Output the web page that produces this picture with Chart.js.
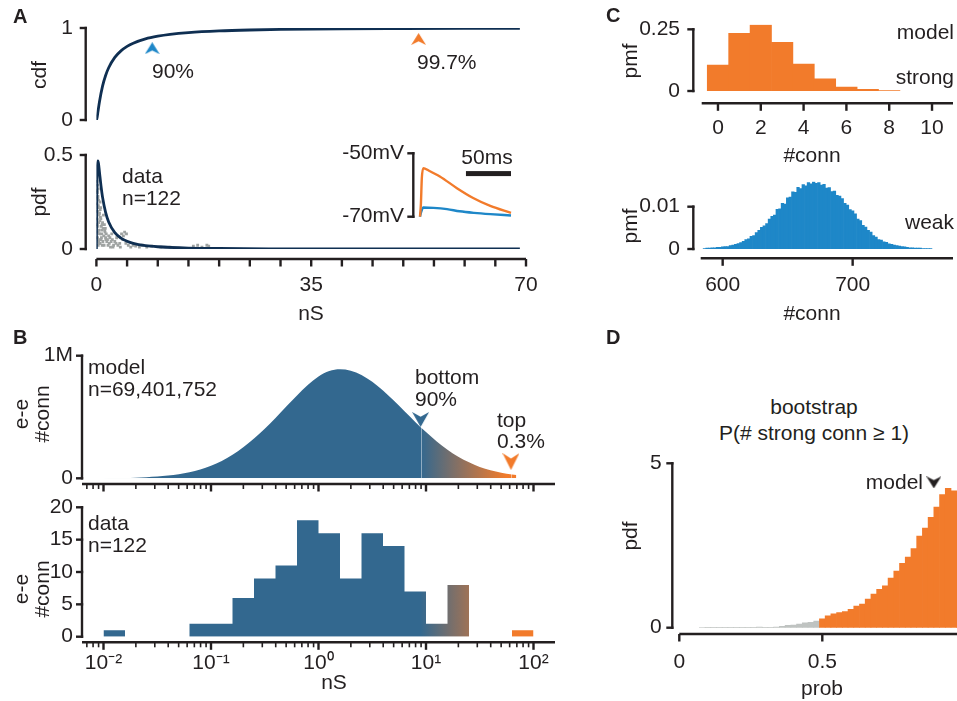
<!DOCTYPE html>
<html>
<head>
<meta charset="utf-8">
<script src="https://cdn.jsdelivr.net/npm/chart.js@4.4.1/dist/chart.umd.min.js"></script>
<style>
html, body { margin: 0; padding: 0; width: 957px; height: 701px; overflow: hidden; background: #fff; }
body { position: relative; font-family: "Liberation Sans", Arial, sans-serif; color: #231f20; }
canvas { position: absolute; }
.t { position: absolute; font-size: 21px; line-height: 24px; white-space: nowrap; }
.c { transform: translateX(-50%); }
.r { transform: translate(-50%, -50%) rotate(-90deg); text-align: center; }
.p { font-weight: bold; font-size: 20px; }
</style>
</head>
<body>
<canvas id="cdfChart" width="540" height="130" style="left:0;top:0"></canvas>
<canvas id="pdfChart" width="540" height="195" style="left:0;top:135px"></canvas>
<canvas id="insetChart" width="190" height="90" style="left:330px;top:140px"></canvas>
<canvas id="modelChart" width="570" height="160" style="left:0;top:335px"></canvas>
<canvas id="dataChart" width="570" height="206" style="left:0;top:495px"></canvas>
<canvas id="strongChart" width="357" height="170" style="left:600px;top:0"></canvas>
<canvas id="weakChart" width="357" height="165" style="left:600px;top:165px"></canvas>
<canvas id="bootChart" width="390" height="256" style="left:600px;top:445px"></canvas>

<!-- panel letters -->
<div class="t p" style="left:13px;top:4px">A</div>
<div class="t p" style="left:13px;top:325px">B</div>
<div class="t p" style="left:606px;top:3px">C</div>
<div class="t p" style="left:606px;top:325px">D</div>

<!-- axis titles -->
<div class="t r" style="left:39px;top:75px">cdf</div>
<div class="t r" style="left:39px;top:202px">pdf</div>
<div class="t c" style="left:311px;top:301px">nS</div>
<div class="t r" style="left:30.5px;top:414px;line-height:21px">e-e<br>#conn</div>
<div class="t r" style="left:30.5px;top:589px;line-height:21px">e-e<br>#conn</div>
<div class="t c" style="left:334px;top:670px">nS</div>
<div class="t r" style="left:630px;top:61px">pmf</div>
<div class="t c" style="left:812px;top:143px">#conn</div>
<div class="t r" style="left:630px;top:226px">pmf</div>
<div class="t c" style="left:812px;top:301px">#conn</div>
<div class="t r" style="left:630px;top:536px">pdf</div>
<div class="t c" style="left:822px;top:676px">prob</div>

<!-- annotations -->
<div class="t" style="left:152px;top:59px">90%</div>
<div class="t" style="left:417px;top:50px">99.7%</div>
<div class="t" style="left:122px;top:165px;line-height:22px">data<br>n=122</div>
<div class="t c" style="left:487px;top:145px">50ms</div>
<div class="t" style="left:88px;top:356px;line-height:22px">model<br>n=69,401,752</div>
<div class="t" style="left:415px;top:366px;line-height:22px">bottom<br>90%</div>
<div class="t" style="left:497px;top:409px;line-height:21px">top<br>0.3%</div>
<div class="t" style="left:88px;top:512px;line-height:22px">data<br>n=122</div>
<div class="t" style="right:3px;top:20px">model</div>
<div class="t" style="right:3px;top:65px">strong</div>
<div class="t" style="right:3px;top:210px">weak</div>
<div class="t c" style="left:814px;top:395px">bootstrap</div>
<div class="t c" style="left:814px;top:421px">P(# strong conn ≥ 1)</div>
<div class="t" style="right:34px;top:470px">model</div>

<script>
// ---- A: conductance cdf / pdf (nS) ----
const cdfNS  = [0, 0.1, 0.25, 0.5, 1, 1.5, 2, 3, 4, 5, 6, 8, 10, 12, 15, 20, 25, 30, 40, 50, 60, 69];
const cdfVal = [0, 0.022, 0.088, 0.199, 0.368, 0.484, 0.568, 0.680, 0.751, 0.800, 0.835, 0.882,
                0.911, 0.931, 0.950, 0.968, 0.978, 0.984, 0.991, 0.994, 0.996, 0.997];
const cdfMarkNS = [9.1, 52.5];
const cdfMarkY  = [0.78, 0.88];

const pdfNS  = [0, 0.05, 0.1, 0.15, 0.25, 0.35, 0.5, 0.75, 1, 1.5, 2, 3, 4, 5, 6, 8, 10, 15, 20, 30, 40, 50, 69];
const pdfVal = [0, 0.237, 0.377, 0.438, 0.469, 0.453, 0.409, 0.336, 0.276, 0.195, 0.144, 0.087,
                0.058, 0.041, 0.030, 0.018, 0.012, 0.005, 0.0026, 0.001, 0.0005, 0.0002, 0.0001];

// measured connections, drawn as jittered grey squares
const dataNS = [0.1, 0.2, 0.3, 0.15, 0.25, 0.35, 0.1, 0.3, 0.2, 0.4, 0.15, 0.35, 0.25, 0.45, 0.5, 0.2, 0.4, 0.3, 0.6, 0.55,
                0.7, 0.5, 0.8, 0.65, 0.9, 0.75, 1.0, 0.6, 0.85, 1.1, 0.95, 1.2, 1.3, 1.05, 1.4, 1.5, 1.25, 1.6, 1.7, 1.45,
                1.8, 2.0, 1.9, 2.2, 2.4, 2.1, 2.6, 2.8, 2.3, 3.0, 3.2, 2.7, 3.5, 3.8, 4.1, 4.4, 4.6, 4.9, 4.3, 4.8,
                5.2, 5.6, 6.0, 6.4, 7.0, 7.5, 8.2, 9.0, 10.5, 12.0, 15.8, 16.5, 17.2, 18.0, 18.3,
                0.12, 0.22, 0.32, 0.42, 0.18, 0.28, 0.38, 0.48, 0.62, 0.72, 0.82, 0.92, 1.15, 1.35, 1.55, 2.5, 3.3, 3.9];
const dataPdf = [0.36, 0.34, 0.32, 0.30, 0.28, 0.26, 0.24, 0.22, 0.20, 0.18, 0.16, 0.14, 0.12, 0.10, 0.08, 0.06, 0.04, 0.02, 0.25, 0.15,
                 0.22, 0.19, 0.12, 0.17, 0.10, 0.05, 0.14, 0.03, 0.08, 0.11, 0.02, 0.07, 0.13, 0.04, 0.09, 0.06, 0.02, 0.08, 0.04, 0.11,
                 0.05, 0.07, 0.02, 0.06, 0.04, 0.03, 0.05, 0.02, 0.01, 0.04, 0.03, 0.01, 0.02, 0.03, 0.08, 0.07, 0.09, 0.08, 0.05, 0.03,
                 0.02, 0.01, 0.02, 0.015, 0.01, 0.02, 0.01, 0.015, 0.01, 0.01, 0.015, 0.02, 0.01, 0.02, 0.015,
                 0.31, 0.27, 0.23, 0.19, 0.13, 0.09, 0.05, 0.03, 0.21, 0.16, 0.06, 0.13, 0.18, 0.1, 0.05, 0.08, 0.06, 0.01];

// inset: membrane potential traces (ms, mV)
const strongMs = [0, 1, 2, 3.7, 10, 22, 41, 59, 78, 101];
const strongMv = [-70, -66, -58, -54.7, -55.5, -57.3, -61, -64.1, -66.6, -68.8];
const weakMs   = [0, 1, 3.7, 15, 30, 44, 60, 78, 101];
const weakMv   = [-70, -68.8, -67.1, -67.2, -67.6, -68.3, -68.8, -69.2, -69.6];

// ---- B: model (millions) and data histograms, log10 nS ----
const modelLogNS = [-2.0, -1.9, -1.8, -1.7, -1.6, -1.5, -1.4, -1.3, -1.2, -1.1, -1.0, -0.9, -0.8, -0.7, -0.6, -0.5,
                    -0.4, -0.3, -0.2, -0.1, 0.0, 0.1, 0.2, 0.3, 0.4, 0.5, 0.6, 0.7, 0.8, 0.9, 1.0, 1.1, 1.2, 1.3,
                    1.4, 1.5, 1.6, 1.7, 1.8, 1.84];
const modelCount = [0.001, 0.002, 0.003, 0.005, 0.009, 0.014, 0.022, 0.034, 0.050, 0.072, 0.102, 0.142, 0.192, 0.254,
                    0.325, 0.405, 0.492, 0.585, 0.676, 0.760, 0.830, 0.875, 0.889, 0.878, 0.843, 0.787, 0.716, 0.634,
                    0.547, 0.460, 0.377, 0.300, 0.233, 0.176, 0.130, 0.093, 0.066, 0.046, 0.031, 0.026];
const modelMarkNS = [8.91, 61.7];
const modelMarkY  = [0.48, 0.137];
const tailFromNS = 8.9;   // bottom 90% cut
const tailToNS   = 56;
const modelCutNS = [8.91, 61.7];

const dataEdgeLog = [-2.0, -1.8, -1.6, -1.4, -1.2, -1.0, -0.8, -0.6, -0.4, -0.2, 0.0,
                     0.2, 0.4, 0.6, 0.8, 1.0, 1.2, 1.4, 1.6, 1.8, 2.0];
const dataCount   = [1, 0, 0, 0, 2, 2, 6, 9, 11, 18, 16, 9, 16, 14, 7, 2, 8, 0, 0, 1];

// ---- C: number of strong / weak connections ----
const strongConn = [0, 1, 2, 3, 4, 5, 6, 7, 8];
const strongPmf  = [0.105, 0.234, 0.267, 0.197, 0.109, 0.049, 0.016, 0.007, 0.0015];

const weakStart = 586, weakStep = 2;
const weakPmf = [0.0001, 0.0002, 0.0002, 0.0003, 0.0003, 0.0004, 0.0004, 0.0005, 0.0006, 0.0006,
                 0.0008, 0.0009, 0.0011, 0.0013, 0.0015, 0.0018, 0.0022, 0.0024, 0.0030, 0.0032,
                 0.0039, 0.0044, 0.0051, 0.0055, 0.0060, 0.0071, 0.0077, 0.0080, 0.0094, 0.0095,
                 0.0108, 0.0106, 0.0121, 0.0123, 0.0135, 0.0134, 0.0146, 0.0143, 0.0152, 0.0149,
                 0.0157, 0.0154, 0.0158, 0.0155, 0.0157, 0.0151, 0.0153, 0.0144, 0.0145, 0.0136,
                 0.0137, 0.0127, 0.0125, 0.0119, 0.0108, 0.0104, 0.0093, 0.0090, 0.0083, 0.0071,
                 0.0067, 0.0056, 0.0052, 0.0044, 0.0040, 0.0032, 0.0028, 0.0022, 0.0021, 0.0017,
                 0.0016, 0.0012, 0.0011, 0.0009, 0.0008, 0.0007, 0.0006, 0.0005, 0.0004, 0.0003,
                 0.0003, 0.0002, 0.0002, 0.0002, 0.0001, 0.0001, 0.0001, 0.0001];
const weakConn = weakPmf.map((_, i) => weakStart + weakStep * i);

// ---- D: bootstrap P(# strong conn >= 1) ----
const bootStart = 0.08, bootStep = 0.02;
const bootPdf = [0.005, 0.01, 0.01, 0.01, 0.01, 0.01, 0.01, 0.01, 0.01, 0.01, 0.02, 0.015, 0.015, 0.02,
                 0.04, 0.07, 0.08, 0.11, 0.15, 0.16, 0.20, 0.27, 0.36, 0.42, 0.46, 0.49, 0.56, 0.66,
                 0.72, 0.87, 1.02, 1.17, 1.27, 1.51, 1.72, 1.96, 2.15, 2.41, 2.79, 3.03, 3.36, 3.67,
                 4.05, 4.24, 4.16, 3.78, 3.30];
const bootProb = bootPdf.map((_, i) => +(bootStart + bootStep * i).toFixed(2));
const bootCut = 0.49;
const bootModel = [0.89];
const bootModelY = [4.42];

// ---- styling ----
const ink = '#231f20';
const navy = '#0f2f52';
const blueDark = '#33688f';
const blueLight = '#1e87c8';
const orange = '#f27b2b';
const greyBar = '#bfc3c1';
const greyPt = '#9fa3a2';

Chart.defaults.font.family = '"Liberation Sans", Arial, sans-serif';
Chart.defaults.font.size = 21;
Chart.defaults.color = ink;
Chart.defaults.animation = false;
Chart.defaults.events = [];
Chart.defaults.responsive = false;
Chart.defaults.devicePixelRatio = 1;
Chart.defaults.layout.autoPadding = false;
Chart.defaults.plugins.legend.display = false;
Chart.defaults.plugins.tooltip.enabled = false;

const pts = (xs, ys) => xs.map((x, i) => ({ x: x, y: ys[i] }));

const sup = { '-': '\u207B', '0': '\u2070', '1': '\u00B9', '2': '\u00B2' };
function isDecade(v) {
    const e = Math.log10(v);
    return Math.abs(e - Math.round(e)) < 1e-6;
}
function decadeLabel(v) {
    if (!isDecade(v)) return '';
    return '10' + String(Math.round(Math.log10(v))).split('').map(c => sup[c]).join('');
}
// log ticks 1..9 x 10^n inside the axis range
function logTicks(lo, hi) {
    const out = [];
    for (let e = -3; e <= 2; e++) {
        for (let m = 1; m <= 9; m++) {
            const v = m * Math.pow(10, e);
            if (v >= lo && v <= hi) out.push(v);
        }
    }
    return out;
}

// labels must not push the plot area in: drop the label padding the scale asks for
function noPad(s) {
    s.paddingTop = 0; s.paddingBottom = 0; s.paddingLeft = 0; s.paddingRight = 0;
}

function yScale(o) {
    return {
        type: 'linear', min: o.min, max: o.max,
        afterFit: s => { s.width = o.width; noPad(s); },
        afterBuildTicks: s => { s.ticks = o.ticks.map(v => ({ value: v })); },
        grid: { display: false, drawTicks: false },
        border: { display: false },
        ticks: { padding: o.pad, autoSkip: false, callback: o.fmt || (v => String(v)) }
    };
}

function xScale(o) {
    if (o.display === false) {
        return { type: 'linear', min: o.min, max: o.max, display: false, offset: false };
    }
    return {
        type: o.type || 'linear', min: o.min, max: o.max, offset: false,
        afterFit: s => { s.height = o.height; noPad(s); },
        afterBuildTicks: s => { s.ticks = o.ticks.map(v => ({ value: v })); },
        grid: { display: false, drawTicks: false },
        border: { display: false },
        ticks: { padding: o.pad || 0, autoSkip: false, maxRotation: 0, minRotation: 0,
                 callback: o.fmt || (v => String(v)) }
    };
}

// offset spines with tick marks, drawn from the scales
const spines = {
    id: 'spines',
    afterDatasetDraw(chart, args, o) {
        // faint cut lines painted only over the filled model area
        if (!o.cuts || args.index !== o.cutsOn) return;
        const { ctx, chartArea: a, scales: { x } } = chart;
        ctx.save();
        ctx.globalCompositeOperation = 'source-atop';
        ctx.strokeStyle = 'rgba(255,255,255,0.45)';
        ctx.lineWidth = 1;
        o.cuts.forEach(v => {
            const p = Math.round(x.getPixelForValue(v)) + 0.5;
            ctx.beginPath(); ctx.moveTo(p, a.top); ctx.lineTo(p, a.bottom); ctx.stroke();
        });
        ctx.restore();
    },
    afterDraw(chart, args, o) {
        const { ctx, chartArea: a, scales } = chart;
        ctx.save();
        ctx.strokeStyle = ink;
        ctx.fillStyle = ink;
        const seg = (x1, y1, x2, y2, w) => {
            ctx.lineWidth = w || 2.4;
            ctx.beginPath(); ctx.moveTo(x1, y1); ctx.lineTo(x2, y2); ctx.stroke();
        };
        if (o.yOff !== undefined) {
            const y = scales.y, sx = a.left - o.yOff;
            const px = y.ticks.map(t => y.getPixelForValue(t.value));
            seg(sx, Math.max(...px) + 1.2, sx, Math.min(...px) - 1.2);
            px.forEach(p => seg(sx - 6, p, sx + 1.2, p));
        }
        if (o.xOff !== undefined) {
            const x = scales.x, sy = a.bottom + o.xOff;
            seg(a.left, sy, a.right, sy);
            x.ticks.forEach(t => {
                const p = x.getPixelForValue(t.value);
                if (o.log && !isDecade(t.value)) seg(p, sy, p, sy + 5, 1.6);
                else seg(p, sy, p, sy + 7.5);
            });
        }
        if (o.scaleBar) {
            const x = scales.x, y = scales.y;
            const x1 = x.getPixelForValue(x.max - o.scaleBar.ms), x2 = x.getPixelForValue(x.max);
            const yc = y.getPixelForValue(o.scaleBar.mv);
            ctx.fillRect(x1, yc - 2.5, x2 - x1, 5);
        }
        ctx.restore();
    }
};

// notched arrowheads used as point styles
function arrowHead(color, w, h, down) {
    const c = document.createElement('canvas');
    c.width = w; c.height = h;
    const g = c.getContext('2d');
    g.fillStyle = color;
    g.beginPath();
    if (down) {
        g.moveTo(w / 2, h); g.lineTo(0, 0); g.lineTo(w / 2, h * 0.32); g.lineTo(w, 0);
    } else {
        g.moveTo(w / 2, 0); g.lineTo(w, h); g.lineTo(w / 2, h * 0.68); g.lineTo(0, h);
    }
    g.closePath();
    g.fill();
    return c;
}

function tailGradient(context) {
    const chart = context.chart;
    const x = chart.scales.x;
    if (!chart.chartArea || !x) return blueDark;
    const g = chart.ctx.createLinearGradient(x.getPixelForValue(tailFromNS), 0, x.getPixelForValue(tailToNS), 0);
    g.addColorStop(0, blueDark);
    g.addColorStop(1, orange);
    return g;
}

// note: Chart.js paints dataset 0 last, so the top-most layer comes first

// A top: cdf
new Chart(document.getElementById('cdfChart'), {
    type: 'line',
    data: {
        datasets: [{
            data: pts(cdfNS, cdfVal),
            borderColor: navy, borderWidth: 2.8, pointRadius: 0,
            cubicInterpolationMode: 'monotone'
        }, {
            data: pts(cdfMarkNS, cdfMarkY),
            showLine: false, pointRadius: 6,
            pointStyle: [arrowHead(blueLight, 15, 12, false), arrowHead(orange, 15, 12, false)]
        }]
    },
    options: {
        layout: { padding: { top: 28, right: 14, bottom: 10, left: 0 } },
        scales: {
            x: xScale({ display: false, min: 0, max: 70 }),
            y: yScale({ min: 0, max: 1, width: 96.4, ticks: [0, 1], pad: 23.4 })
        },
        plugins: { spines: { yOff: 10.7 } }
    },
    plugins: [spines]
});

// A bottom: pdf over the data points
new Chart(document.getElementById('pdfChart'), {
    type: 'line',
    data: {
        datasets: [{
            data: pts(pdfNS, pdfVal),
            borderColor: navy, borderWidth: 2.8, pointRadius: 0,
            cubicInterpolationMode: 'monotone'
        }, {
            data: pts(dataNS, dataPdf),
            showLine: false, pointStyle: 'rect', pointRadius: 2,
            pointBackgroundColor: greyPt, pointBorderWidth: 0
        }]
    },
    options: {
        layout: { padding: { top: 20, right: 14, bottom: 0, left: 0 } },
        scales: {
            x: xScale({ min: 0, max: 70, height: 81, pad: 24,
                        ticks: [0, 5, 10, 15, 20, 25, 30, 35, 40, 45, 50, 55, 60, 65, 70],
                        fmt: v => (v % 35 === 0 ? String(v) : '') }),
            y: yScale({ min: 0, max: 0.5, width: 96.4, ticks: [0, 0.5], pad: 23.4 })
        },
        plugins: { spines: { yOff: 10.7, xOff: 10 } }
    },
    plugins: [spines]
});

// A inset: voltage traces
new Chart(document.getElementById('insetChart'), {
    type: 'line',
    data: {
        datasets: [{
            data: pts(strongMs, strongMv),
            borderColor: orange, borderWidth: 2.4, pointRadius: 0,
            cubicInterpolationMode: 'monotone', clip: false
        }, {
            data: pts(weakMs, weakMv),
            borderColor: blueLight, borderWidth: 2.4, pointRadius: 0,
            cubicInterpolationMode: 'monotone', clip: false
        }]
    },
    options: {
        layout: { padding: { top: 13.3, right: 9, bottom: 13.3, left: 0 } },
        scales: {
            x: xScale({ display: false, min: 0, max: 101 }),
            y: yScale({ min: -70, max: -50, width: 90, ticks: [-70, -50], pad: 16, fmt: v => v + 'mV' })
        },
        plugins: { spines: { yOff: 6.7, scaleBar: { ms: 50, mv: -56.4 } } }
    },
    plugins: [spines]
});

const logLo = Math.pow(10, -2.2), logHi = Math.pow(10, 2.2);

// B top: model histogram, arrows on top
new Chart(document.getElementById('modelChart'), {
    type: 'line',
    data: {
        datasets: [{
            data: pts(modelMarkNS, modelMarkY),
            showLine: false, pointRadius: 6,
            pointStyle: [arrowHead(blueDark, 17, 15, true), arrowHead(orange, 17, 17, true)]
        }, {
            data: modelLogNS.map((l, i) => ({ x: Math.pow(10, l), y: modelCount[i] })),
            borderWidth: 0, pointRadius: 0, fill: 'origin',
            backgroundColor: tailGradient,
            cubicInterpolationMode: 'monotone'
        }]
    },
    options: {
        layout: { padding: { top: 20.7, right: 15, bottom: 0, left: 0 } },
        scales: {
            x: xScale({ type: 'logarithmic', min: logLo, max: logHi, height: 16.7,
                        ticks: logTicks(logLo, logHi), fmt: () => '' }),
            y: yScale({ min: 0, max: 1, width: 82, ticks: [0, 1], pad: 9, fmt: v => (v ? '1M' : '0') })
        },
        plugins: { spines: { yOff: 0, xOff: 5.7, log: true, cuts: modelCutNS, cutsOn: 1 } }
    },
    plugins: [spines]
});

// B bottom: data histogram
new Chart(document.getElementById('dataChart'), {
    type: 'line',
    data: {
        datasets: [{
            data: dataEdgeLog.map((l, i) => ({ x: Math.pow(10, l), y: dataCount[Math.min(i, dataCount.length - 1)] })),
            stepped: true, borderWidth: 0, pointRadius: 0, fill: 'origin',
            backgroundColor: tailGradient
        }]
    },
    options: {
        layout: { padding: { top: 12.3, right: 15, bottom: 0, left: 0 } },
        scales: {
            x: xScale({ type: 'logarithmic', min: logLo, max: logHi, height: 64.3, pad: 14.3,
                        ticks: logTicks(logLo, logHi), fmt: decadeLabel }),
            y: yScale({ min: 0, max: 20, width: 82, ticks: [0, 5, 10, 15, 20], pad: 9 })
        },
        plugins: { spines: { yOff: 0, xOff: 5.6, log: true } }
    },
    plugins: [spines]
});

// C top: strong connections
new Chart(document.getElementById('strongChart'), {
    type: 'bar',
    data: {
        datasets: [{
            data: pts(strongConn, strongPmf),
            backgroundColor: orange, borderWidth: 0,
            barPercentage: 1, categoryPercentage: 1
        }]
    },
    options: {
        layout: { padding: { top: 24.4, right: 4, bottom: 0, left: 0 } },
        scales: {
            x: xScale({ min: -0.76, max: 10.98, height: 79, pad: 25, ticks: [0, 2, 4, 6, 8, 10] }),
            y: yScale({ min: 0, max: 0.27, width: 101.7, ticks: [0, 0.25], pad: 21.7 })
        },
        plugins: { spines: { yOff: 8.4, xOff: 12.3 } }
    },
    plugins: [spines]
});

// C bottom: weak connections
new Chart(document.getElementById('weakChart'), {
    type: 'bar',
    data: {
        datasets: [{
            data: pts(weakConn, weakPmf),
            backgroundColor: blueLight, borderWidth: 0,
            barPercentage: 1, categoryPercentage: 1
        }]
    },
    options: {
        layout: { padding: { top: 16.3, right: 4, bottom: 0, left: 0 } },
        scales: {
            x: xScale({ min: 583.1, max: 777.2, height: 81, pad: 24, ticks: [600, 700] }),
            y: yScale({ min: 0, max: 0.016, width: 100.7, ticks: [0, 0.01], pad: 20.7 })
        },
        plugins: { spines: { yOff: 7.4, xOff: 9.3 } }
    },
    plugins: [spines]
});

// D: bootstrap distribution
new Chart(document.getElementById('bootChart'), {
    type: 'bar',
    data: {
        datasets: [{
            type: 'line',
            data: pts(bootModel, bootModelY),
            showLine: false, pointRadius: 6,
            pointStyle: [arrowHead(ink, 15, 12, true)]
        }, {
            data: pts(bootProb, bootPdf),
            backgroundColor: bootProb.map(p => (p < bootCut ? greyBar : orange)),
            borderWidth: 0, barPercentage: 1, categoryPercentage: 1
        }]
    },
    options: {
        layout: { padding: { top: 18.3, right: 24.7, bottom: 0, left: 0 } },
        scales: {
            x: xScale({ min: 0, max: 1, height: 73.3, pad: 22, ticks: [0, 0.5, 1] }),
            y: yScale({ min: 0, max: 5, width: 79.3, ticks: [0, 5], pad: 17.6 })
        },
        plugins: { spines: { yOff: 7, xOff: 6.3 } }
    },
    plugins: [spines]
});
</script>
</body>
</html>
